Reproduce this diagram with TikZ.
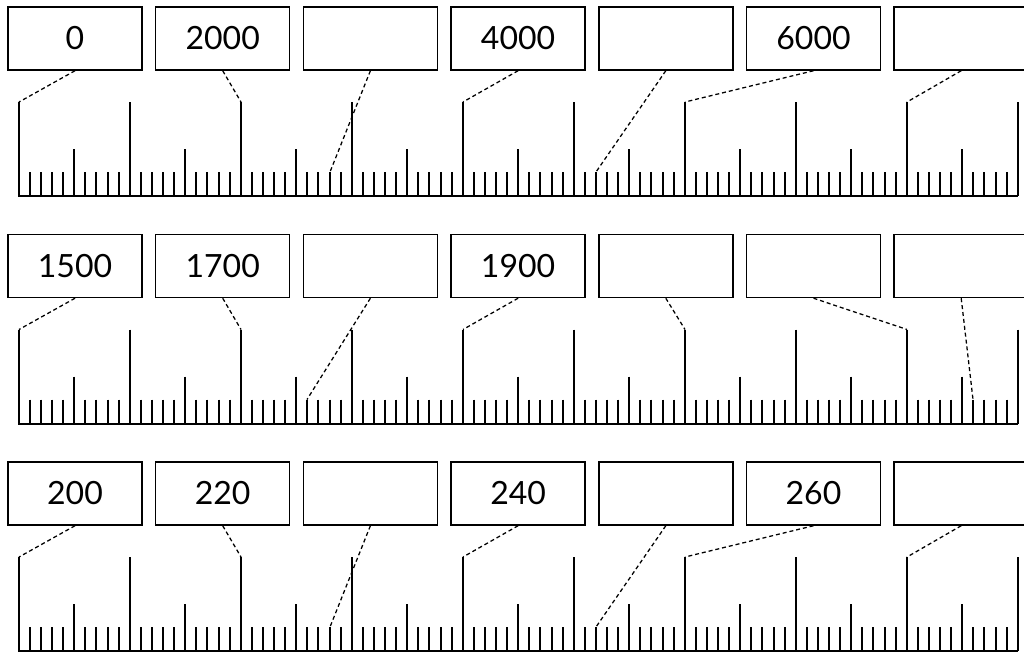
\documentclass[tikz,border=0pt]{standalone}
\usepackage{fontspec}
\setmainfont{Lato}
\begin{document}
\begin{tikzpicture}[x=0.75pt,y=-0.75pt,
  box/.style={draw,line width=1.1pt,minimum width=100.5pt,minimum height=47.25pt,
    inner sep=0pt,font=\fontsize{24}{28}\selectfont},
  tick/.style={line width=1.5pt},
  link/.style={line width=0.95pt,dash pattern=on 3pt off 2.2pt}]
\useasboundingbox (0,0) rectangle (1024,653);
\clip (0,0) rectangle (1024,653);
% three number lines, each with seven boxes hooked to a tick
\foreach \r/\labs/\tgts in {
    0/{0,2000,{},4000,{},6000,{}}/{0,20,28,40,52,60,80},
    1/{1500,1700,{},1900,{},{},{}}/{0,20,26,40,60,80,86},
    2/{200,220,{},240,{},260,{}}/{0,20,28,40,52,60,80}} {
  \pgfmathsetmacro\yb{196+227.5*\r}
  \pgfmathsetmacro\yc{38.5+227.5*\r}
  % ticks: long every 10, middle every 5 (snapped to the pixel grid)
  \foreach \k in {0,...,90} {
    \pgfmathsetmacro\h{mod(\k,10)==0 ? 94 : (mod(\k,5)==0 ? 47 : 24)}
    \pgfmathsetmacro\xt{round(18.7+11.1*\k)}
    \coordinate (t-\r-\k) at (\xt,{\yb-\h});
    \draw[tick] (t-\r-\k) -- ++(0,\h);
  }
  \draw[tick] (18,\yb) -- (1018,\yb);
  % boxes
  \foreach \lab [count=\i from 0] in \labs
    \node[box] (b-\r-\i) at ({75+147.7*\i},\yc) {\lab};
  % dashed links
  \foreach \t [count=\i from 0] in \tgts
    \draw[link] (b-\r-\i.south) -- (t-\r-\t);
}
\end{tikzpicture}
\end{document}
